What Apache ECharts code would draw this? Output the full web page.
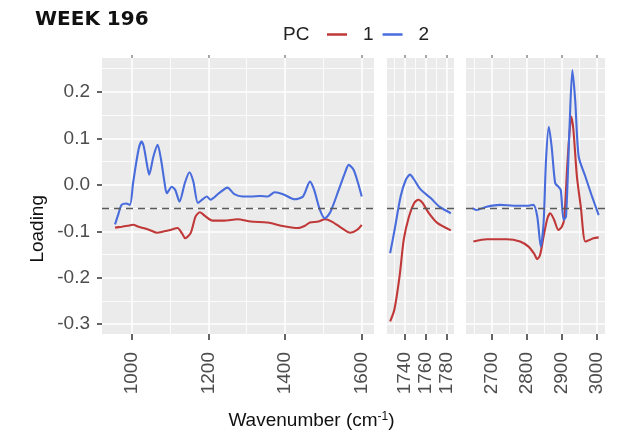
<!DOCTYPE html>
<html>
<head>
<meta charset="utf-8">
<script src="https://cdn.jsdelivr.net/npm/echarts@6/dist/echarts.min.js"></script>
<style>
  html, body { margin: 0; padding: 0; background: #ffffff; }
  #chart { width: 623px; height: 438px; }
</style>
</head>
<body>
<div id="chart"></div>
<script>
// PCA loadings, [wavenumber cm^-1, loading], one array per spectral window and component
const pc1Fingerprint = [
  [957,-0.092],[975,-0.090],[990,-0.088],[1004,-0.086],[1018,-0.090],[1031,-0.093],[1050,-0.098],
  [1066,-0.103],[1085,-0.100],[1101,-0.097],[1120,-0.093],[1132,-0.105],[1140,-0.115],[1154,-0.104],
  [1167,-0.068],[1178,-0.059],[1193,-0.068],[1211,-0.077],[1241,-0.077],[1276,-0.074],[1311,-0.079],
  [1355,-0.081],[1390,-0.088],[1434,-0.093],[1452,-0.088],[1465,-0.081],[1487,-0.079],[1504,-0.074],
  [1522,-0.079],[1548,-0.093],[1570,-0.103],[1588,-0.097],[1600,-0.086]
];
const pc2Fingerprint = [
  [957,-0.085],[966,-0.062],[974,-0.043],[986,-0.040],[996,-0.043],[1004,0.004],[1018,0.075],
  [1026,0.093],[1032,0.082],[1040,0.045],[1046,0.022],[1057,0.061],[1068,0.086],[1077,0.054],
  [1086,0.005],[1092,-0.018],[1105,-0.004],[1114,-0.011],[1125,-0.036],[1139,0.004],[1151,0.027],
  [1161,0.007],[1173,-0.039],[1184,-0.032],[1196,-0.025],[1206,-0.032],[1228,-0.018],[1250,-0.006],
  [1268,-0.020],[1290,-0.025],[1311,-0.025],[1335,-0.024],[1355,-0.025],[1373,-0.016],[1395,-0.020],
  [1425,-0.031],[1447,-0.025],[1465,0.007],[1476,-0.011],[1491,-0.054],[1504,-0.072],[1518,-0.059],
  [1540,-0.011],[1556,0.025],[1566,0.043],[1579,0.032],[1590,0.005],[1600,-0.025]
];
const pc1Carbonyl = [
  [1726,-0.294],[1730,-0.269],[1735,-0.197],[1739,-0.118],[1744,-0.068],[1749,-0.039],
  [1753,-0.032],[1757,-0.039],[1763,-0.061],[1771,-0.082],[1784,-0.098]
];
const pc2Carbonyl = [
  [1726,-0.147],[1730,-0.100],[1736,-0.025],[1741,0.011],[1745,0.022],[1749,0.011],
  [1754,-0.007],[1758,-0.016],[1765,-0.029],[1773,-0.047],[1784,-0.061]
];
const pc1CH = [
  [2648,-0.122],[2686,-0.117],[2743,-0.117],[2781,-0.122],[2805,-0.133],[2821,-0.148],[2830,-0.160],
  [2838,-0.151],[2848,-0.111],[2859,-0.072],[2867,-0.061],[2878,-0.075],[2890,-0.097],[2900,-0.090],
  [2907,-0.072],[2916,0.047],[2927,0.147],[2933,0.118],[2943,0.018],[2954,-0.047],[2967,-0.122],
  [2981,-0.118],[2990,-0.115],[3005,-0.113]
];
const pc2CH = [
  [2645,-0.050],[2657,-0.054],[2686,-0.047],[2724,-0.043],[2762,-0.045],[2800,-0.045],[2819,-0.043],
  [2830,-0.068],[2840,-0.133],[2848,-0.082],[2855,0.054],[2863,0.125],[2871,0.082],[2881,0.004],
  [2890,-0.004],[2897,-0.011],[2905,-0.075],[2912,-0.068],[2922,0.125],[2930,0.247],[2938,0.183],
  [2948,0.061],[2967,0.018],[2986,-0.025],[3005,-0.065]
];

// Axis ticks
const yMajorTicks = [-0.3, -0.2, -0.1, 0.0, 0.1, 0.2];
const yMinorTicks = [-0.25, -0.15, -0.05, 0.05, 0.15, 0.25];
const xMajorTicks = [[1000, 1200, 1400, 1600], [1740, 1760, 1780], [2700, 2800, 2900, 3000]];
const xMinorTicks = [[1100, 1300, 1500], [1730, 1750, 1770], [2650, 2750, 2850, 2950]];
const xExtents = [[923, 1632], [1723, 1787], [2627, 3023]];
const yExtent = [-0.321, 0.273];
const referenceLevel = -0.047;

const pcNames = ['1', '2'];
const pc1Windows = [pc1Fingerprint, pc1Carbonyl, pc1CH];
const pc2Windows = [pc2Fingerprint, pc2Carbonyl, pc2CH];

const RED = '#C03838';
const BLUE = '#486CDC';
const LABEL_FONT = 'Liberation Sans, Arial, sans-serif';
const TICK_COLOR = '#333333';
const LABEL_COLOR = '#4D4D4D';

const panelBoxes = [
  { left: 102, width: 272 },
  { left: 387, width: 67 },
  { left: 466, width: 139 }
];
const TOP = 58, HEIGHT = 276;

const grids = panelBoxes.map(b => ({
  left: b.left, width: b.width, top: TOP, height: HEIGHT,
  show: true, backgroundColor: '#EBEBEB', borderWidth: 0, containLabel: false
}));

const hiddenLine = { show: false, onZero: false };
const xAxes = [];
const yAxes = [];
panelBoxes.forEach((b, i) => {
  // bottom axis: data, labels, ticks, major grid lines
  xAxes.push({
    type: 'value', gridIndex: i, position: 'bottom',
    min: xExtents[i][0], max: xExtents[i][1],
    axisLine: hiddenLine,
    axisTick: { show: true, customValues: xMajorTicks[i], length: 6,
      lineStyle: { color: TICK_COLOR, width: 1.5 } },
    axisLabel: { show: true, customValues: xMajorTicks[i], rotate: 90, margin: 18,
      fontSize: 19, color: LABEL_COLOR, fontFamily: LABEL_FONT,
      formatter: v => String(Math.round(v)) },
    splitLine: { show: true, lineStyle: { color: '#FFFFFF', width: 1.5 } }
  });
  // top axis: small tick marks only
  xAxes.push({
    type: 'value', gridIndex: i, position: 'top',
    min: xExtents[i][0], max: xExtents[i][1],
    axisLine: hiddenLine,
    axisTick: { show: true, customValues: xMajorTicks[i], length: 3,
      lineStyle: { color: '#8A8A8A', width: 1.5 } },
    axisLabel: { show: false },
    splitLine: { show: false }
  });
  // minor vertical grid lines
  xAxes.push({
    type: 'value', gridIndex: i, position: 'bottom',
    min: xExtents[i][0], max: xExtents[i][1],
    axisLine: hiddenLine,
    axisTick: { show: false, customValues: xMinorTicks[i] },
    axisLabel: { show: false },
    splitLine: { show: true, lineStyle: { color: '#FFFFFF', width: 0.8 } }
  });

  yAxes.push({
    type: 'value', gridIndex: i, position: 'left',
    min: yExtent[0], max: yExtent[1],
    axisLine: hiddenLine,
    axisTick: { show: i === 0, customValues: yMajorTicks, length: 5,
      lineStyle: { color: TICK_COLOR, width: 1.5 } },
    axisLabel: { show: i === 0, customValues: yMajorTicks, margin: 12,
      fontSize: 19, color: LABEL_COLOR, fontFamily: LABEL_FONT,
      formatter: v => v.toFixed(1) },
    splitLine: { show: true, lineStyle: { color: '#FFFFFF', width: 1.5 } }
  });
  yAxes.push({
    type: 'value', gridIndex: i, position: 'right',
    min: yExtent[0], max: yExtent[1],
    axisLine: hiddenLine,
    axisTick: { show: false, customValues: yMinorTicks },
    axisLabel: { show: false },
    splitLine: { show: true, lineStyle: { color: '#FFFFFF', width: 0.8 } }
  });
});

const series = [];
panelBoxes.forEach((b, i) => {
  [pc1Windows[i], pc2Windows[i]].forEach((data, k) => {
    const s = {
      name: pcNames[k], type: 'line',
      xAxisIndex: i * 3, yAxisIndex: i * 2,
      data: data, showSymbol: false, smooth: 0.25,
      lineStyle: { color: k === 0 ? RED : BLUE, width: 2.1 },
      itemStyle: { color: k === 0 ? RED : BLUE },
      z: 3, silent: true
    };
    if (k === 1) {
      s.markLine = {
        silent: true, symbol: 'none', label: { show: false },
        lineStyle: { color: '#5A5A5A', type: [7, 5], width: 1.4 },
        data: [{ yAxis: referenceLevel }]
      };
    }
    series.push(s);
  });
});

const chart = echarts.init(document.getElementById('chart'), null, { renderer: 'canvas' });
chart.setOption({
  animation: false,
  backgroundColor: '#FFFFFF',
  title: {
    text: 'WEEK 196', left: 30, top: 5,
    textStyle: { fontSize: 20, fontWeight: 'bold', color: '#111111', fontFamily: 'DejaVu Sans, Verdana, sans-serif' }
  },
  legend: {
    data: pcNames, left: 322, top: 20,
    icon: 'rect', itemWidth: 20, itemHeight: 2.5, itemGap: 9,
    textStyle: { fontSize: 19, color: '#222222', fontFamily: LABEL_FONT, padding: [0, 0, 0, 11] },
    selectedMode: false
  },
  graphic: [
    { type: 'text', left: 283, top: 25,
      style: { text: 'PC', fontSize: 19, fill: '#222222', fontFamily: LABEL_FONT } },
    { type: 'text', left: 28, top: 195, rotation: Math.PI / 2, originX: 0, originY: 0,
      style: { text: 'Loading', fontSize: 19, fill: '#111111', fontFamily: LABEL_FONT,
        textAlign: 'center', textVerticalAlign: 'middle' } },
    { type: 'text', left: 'center', top: 411,
      style: { text: 'Wavenumber (cm{sup|-1})', fontSize: 19, fill: '#111111', fontFamily: LABEL_FONT,
        rich: { sup: { fontSize: 12, verticalAlign: 'top', fill: '#111111', fontFamily: LABEL_FONT } } } }
  ],
  grid: grids,
  xAxis: xAxes,
  yAxis: yAxes,
  series: series
});
</script>
</body>
</html>
